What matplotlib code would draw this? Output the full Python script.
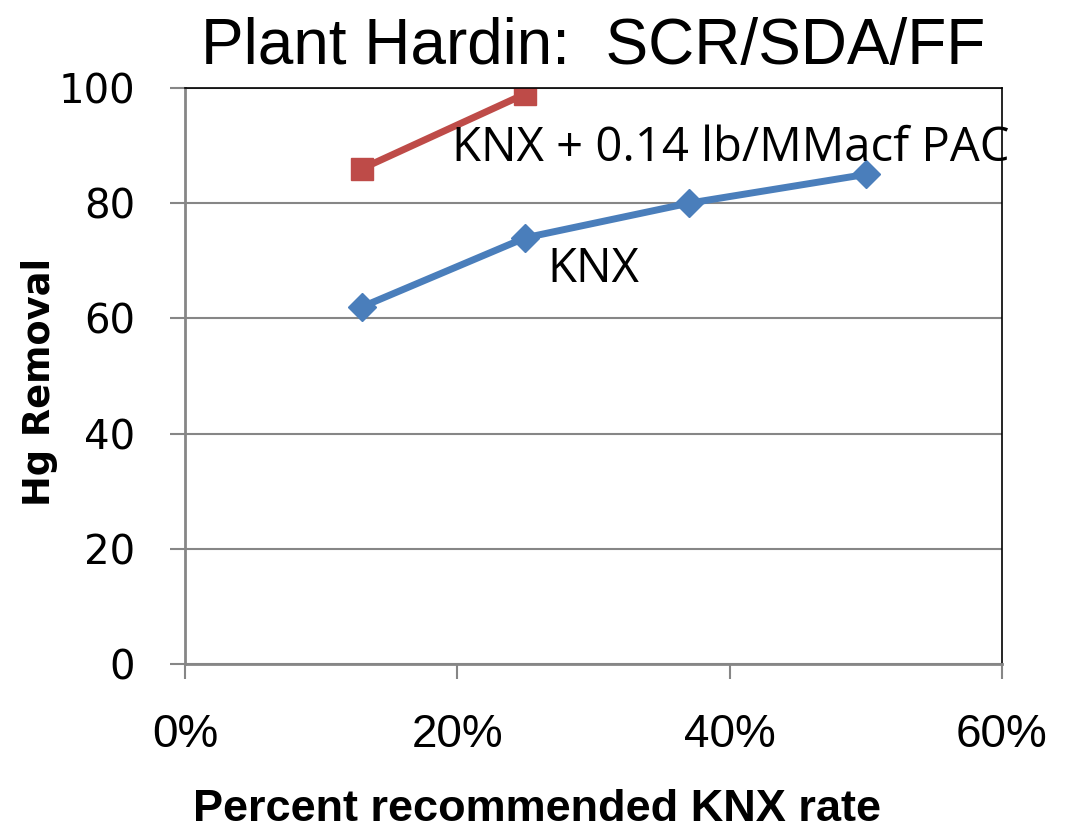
import matplotlib.pyplot as plt
from matplotlib.ticker import PercentFormatter

# data
knx_rate = [0.13, 0.25, 0.37, 0.50]
knx_removal = [62, 74, 80, 85]
pac_rate = [0.13, 0.25]
pac_removal = [86, 99]

x_ticks = [0, 0.2, 0.4, 0.6]
y_ticks = [0, 20, 40, 60, 80, 100]

grey = '#868686'

fig = plt.figure(figsize=(10.68, 8.31), dpi=100)
ax = fig.add_axes([0.1732, 0.2010, 0.7650, 0.6931])

ax.plot(knx_rate, knx_removal, color='#4a7ebb', lw=5, marker='D', ms=14,
        solid_capstyle='butt')
ax.plot(pac_rate, pac_removal, color='#be4b48', lw=5, marker='s', ms=16,
        solid_capstyle='butt')

ax.set_xlim(0, 0.6)
ax.set_ylim(0, 100)
ax.set_xticks(x_ticks)
ax.set_yticks(y_ticks)
ax.xaxis.set_major_formatter(PercentFormatter(1.0, decimals=0))
ax.grid(axis='y', color=grey, lw=1.5)
ax.set_axisbelow(True)

for s in ['left', 'bottom']:
    ax.spines[s].set_color(grey)
    ax.spines[s].set_linewidth(2)
for s in ['top', 'right']:
    ax.spines[s].set_color('black')
    ax.spines[s].set_linewidth(1.2)

ax.tick_params(axis='both', color=grey, width=1.5, length=11)
for lbl in ax.get_yticklabels():
    lbl.set_fontfamily('DejaVu Sans')
    lbl.set_fontsize(29)
for lbl in ax.get_xticklabels():
    lbl.set_fontfamily('Liberation Sans')
    lbl.set_fontsize(33)
ax.tick_params(axis='x', pad=24)
ax.tick_params(axis='y', pad=25)

ax.set_title('Plant Hardin:  SCR/SDA/FF', fontsize=46, family='Liberation Sans',
             y=1.0, pad=17)
ax.set_xlabel('Percent recommended KNX rate', fontsize=32.5, fontweight='bold',
              family='Liberation Sans', va='center')
ax.xaxis.set_label_coords(0.431, -0.253)
ax.set_ylabel('Hg Removal', fontsize=26.5, fontweight='bold', family='DejaVu Sans',
              va='center')
ax.yaxis.set_label_coords(-0.1775, 0.49)

ax.text(0.196, 89.5, 'KNX + 0.14 lb/MMacf PAC', fontsize=34, family='Open Sans',
        va='center')
ax.text(0.266, 68.5, 'KNX', fontsize=34, family='Open Sans', va='center')

fig.savefig('out.png', dpi=100)
